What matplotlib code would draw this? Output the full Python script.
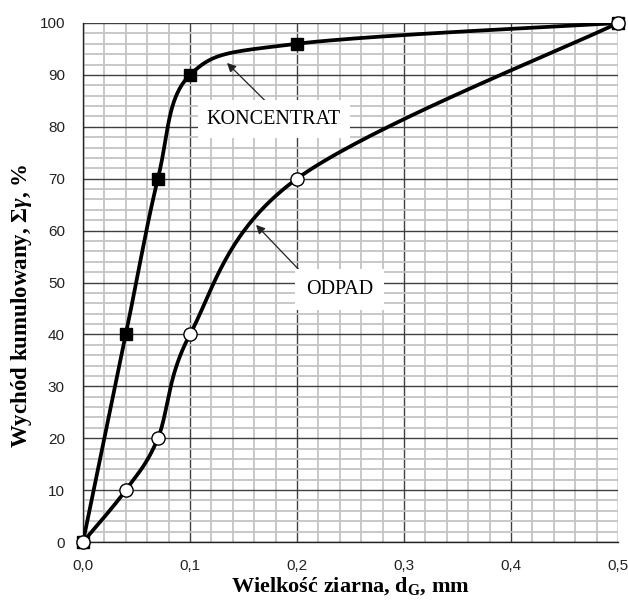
import numpy as np
import matplotlib
matplotlib.use("Agg")
import matplotlib.pyplot as plt
from matplotlib.ticker import MultipleLocator, FuncFormatter

x_vals = [0.0, 0.04, 0.07, 0.1, 0.2, 0.5]
koncentrat = [0, 40, 70, 90, 96, 100]
odpad = [0, 10, 20, 40, 70, 100]

x_ticks = [0.0, 0.1, 0.2, 0.3, 0.4, 0.5]
y_ticks = list(range(0, 101, 10))

plt.rcParams['mathtext.fontset'] = 'custom'
plt.rcParams['mathtext.rm'] = 'Liberation Serif:bold'
plt.rcParams['mathtext.it'] = 'Liberation Serif:bold:italic'
plt.rcParams['mathtext.bf'] = 'Liberation Serif:bold'

fig = plt.figure(figsize=(6.28, 6.04), dpi=100)
ax = fig.add_axes([83/628, 1-542/604, (618-83)/628, (542-23)/604])


def excel_smooth(ax, xs, ys, n=40):
    # Bezier smoothing in display space (Excel-like)
    pts = ax.transData.transform(np.column_stack([xs, ys]))
    P = np.vstack([pts[0], pts, pts[-1]])
    out = []
    for i in range(1, len(P) - 2):
        p0, p1, p2, p3 = P[i - 1], P[i], P[i + 1], P[i + 2]
        c1 = p1 + (p2 - p0) / 6.0
        c2 = p2 - (p3 - p1) / 6.0
        t = np.linspace(0, 1, n)[:, None]
        seg = ((1 - t) ** 3) * p1 + 3 * ((1 - t) ** 2) * t * c1 + 3 * (1 - t) * t ** 2 * c2 + t ** 3 * p2
        out.append(seg)
    out = np.vstack(out)
    return ax.transData.inverted().transform(out)


ax.set_xlim(0, 0.5)
ax.set_ylim(0, 100)
fig.canvas.draw()

ax.set_xticks(x_ticks)
ax.set_yticks(y_ticks)
ax.xaxis.set_minor_locator(MultipleLocator(0.02))
ax.yaxis.set_minor_locator(MultipleLocator(2))
ax.grid(which='minor', color='#c4c4c4', lw=1.3, zorder=0)
ax.grid(which='major', color='#404040', lw=1.0, zorder=0.5)
ax.set_axisbelow(True)
for s in ['top', 'right']:
    ax.spines[s].set_visible(False)
for s in ['left', 'bottom']:
    ax.spines[s].set_color('#222222')
    ax.spines[s].set_linewidth(1.0)
ax.tick_params(which='both', length=0, labelsize=11)
ax.tick_params(axis='x', pad=12)
ax.tick_params(axis='y', pad=13)
ax.xaxis.set_major_formatter(FuncFormatter(lambda v, p: f"{v:.1f}".replace('.', ',')))
ax.yaxis.set_major_formatter(FuncFormatter(lambda v, p: f"{int(v)}"))
for lab in ax.get_xticklabels() + ax.get_yticklabels():
    lab.set_fontfamily('Liberation Sans')
    lab.set_color('#222222')

ck = excel_smooth(ax, x_vals, koncentrat)
co = excel_smooth(ax, x_vals, odpad)
ax.plot(ck[:, 0], ck[:, 1], color='black', lw=2.7, zorder=3, solid_capstyle='round')
ax.plot(co[:, 0], co[:, 1], color='black', lw=2.7, zorder=3, solid_capstyle='round')
ax.plot(x_vals, koncentrat, ls='none', marker='s', ms=8.5, mfc='black', mec='black', zorder=4, clip_on=False)
ax.plot(x_vals, odpad, ls='none', marker='o', ms=9.5, mfc='white', mec='black', mew=1.0, zorder=5, clip_on=False)

ax.annotate('KONCENTRAT', xy=(0.1346, 92.3), xytext=(0.1785, 81.5),
            ha='center', va='center', fontsize=14.5, family='Liberation Serif',
            bbox=dict(boxstyle='square,pad=0.45', fc='white', ec='none'),
            arrowprops=dict(arrowstyle='-|>', color='#222222', lw=0.9, mutation_scale=13,
                            shrinkA=0, shrinkB=0,
                            relpos=(0.5, 1.0)), zorder=6)
ax.annotate('ODPAD', xy=(0.1617, 61.1), xytext=(0.2395, 48.6),
            ha='center', va='center', fontsize=14.5, family='Liberation Serif',
            bbox=dict(boxstyle='square,pad=0.55', fc='white', ec='none'),
            arrowprops=dict(arrowstyle='-|>', color='#222222', lw=0.9, mutation_scale=13,
                            shrinkA=0, shrinkB=0,
                            relpos=(0.05, 1.0)), zorder=6)

ax.set_xlabel('Wielkość ziarna, d$_{\\mathrm{G}}$, mm', fontsize=16, fontweight='bold',
              family='Liberation Serif')
ax.set_ylabel('Wychód kumulowany, Σ$\\mathit{γ}$, %', fontsize=16.5, fontweight='bold',
              family='Liberation Serif')
ax.xaxis.set_label_coords(0.5, -0.064)
ax.yaxis.set_label_coords(-0.091, 0.455)

fig.savefig('out.png', dpi=100)
